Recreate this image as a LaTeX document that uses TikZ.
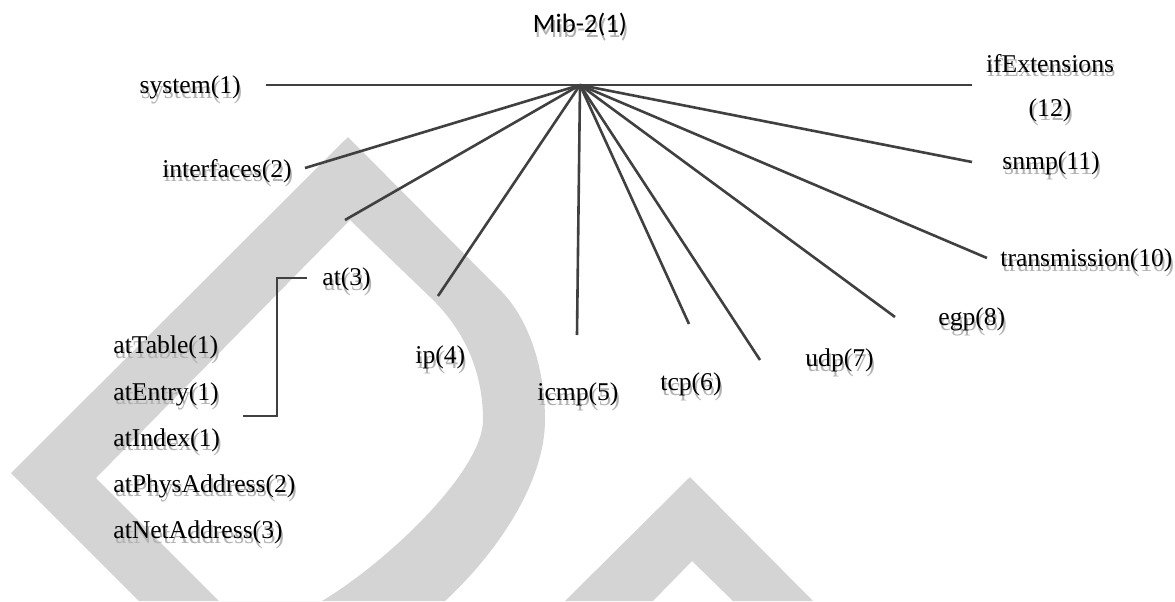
\documentclass[tikz,border=0pt]{standalone}
\usepackage{fontspec}
\setmainfont{Liberation Serif}
\newfontfamily\calibrifont{Carlito}
\usetikzlibrary{positioning, calc}
\colorlet{linegray}{black!75}
\colorlet{markgray}{black!17}
\colorlet{shadowgray}{black!30}
\newcommand{\shadowed}[1]{\rlap{\kern0.8pt\raisebox{-2.2pt}{\textcolor{shadowgray}{#1}}}#1}

\begin{document}
\begin{tikzpicture}[x=0.5pt, y=-0.5pt,
    leaf/.style={inner sep=0pt,
      font=\fontsize{12.8}{22}\selectfont},
    branch/.style={draw=linegray,
      line width=1.3pt}]
  \useasboundingbox (0,0) rectangle (1175,601);

  % BACKGROUND MARKS

  \fill[markgray, even odd rule]
    (139,601) -- (11,473) -- (348,137) -- (503,293)
      .. controls (530,322) and (545,370) .. (545,420)
      .. controls (545,480) and (500,550) .. (445,601) -- cycle
    (219,601) -- (96,478) -- (350,220) -- (430,297)
      .. controls (470,335) and (483,380) .. (483,420)
      .. controls (483,470) and (390,560) .. (322,601) -- cycle;

  \fill[markgray] (565,601) -- (690,477) -- (813,601)
    -- (733,601) -- (692,561) -- (653,601) -- cycle;

  % ROOT

  \node[leaf, font=\calibrifont\fontsize{13.3}{16}\selectfont] (mib) at (580,27) {
    \shadowed{Mib-2(1)}
  };
  \coordinate (hub) at (580,85);

  % GROUPS

  \node[leaf, anchor=east] (system) at (241,90) {\shadowed{system(1)}};
  \node[leaf, anchor=east] (interfaces) at (292,173) {\shadowed{interfaces(2)}};
  \node[leaf, anchor=west] (at3) at (322,282) {\shadowed{at(3)}};
  \node[leaf, anchor=west] (ip) at (415,360) {\shadowed{ip(4)}};
  \node[leaf, anchor=west] (icmp) at (537,397) {\shadowed{icmp(5)}};
  \node[leaf, anchor=west] (tcp) at (660,387) {\shadowed{tcp(6)}};
  \node[leaf, anchor=west] (udp) at (805,363) {\shadowed{udp(7)}};
  \node[leaf, anchor=west] (egp) at (938,322) {\shadowed{egp(8)}};
  \node[leaf, anchor=west] (transmission) at (1000,263) {\shadowed{transmission(10)}};
  \node[leaf, anchor=west] (snmp) at (1002,166) {\shadowed{snmp(11)}};
  \node[leaf, align=center] (ifext) at (1050,90) {
    \shadowed{ifExtensions}\\
    \shadowed{(12)}
  };

  % AT TABLE

  \node[leaf, anchor=west] (attable) at (113,350) {\shadowed{atTable(1)}};

  \node[leaf,
    below=23.1pt of attable.west,
    anchor=west] (atentry) {\shadowed{atEntry(1)}};

  \node[leaf,
    below=23.1pt of atentry.west,
    anchor=west] (atindex) {\shadowed{atIndex(1)}};

  \node[leaf,
    below=23.1pt of atindex.west,
    anchor=west] (atphys) {\shadowed{atPhysAddress(2)}};

  \node[leaf,
    below=23.1pt of atphys.west,
    anchor=west] (atnet) {\shadowed{atNetAddress(3)}};

  % BRANCHES

  \coordinate (e1) at (266,85);
  \coordinate (e2) at (305,168);
  \coordinate (e3) at (345,220);
  \coordinate (e4) at (438,296);
  \coordinate (e5) at (577,335);
  \coordinate (e6) at (689,324);
  \coordinate (e7) at (760,360);
  \coordinate (e8) at (895,317);
  \coordinate (e10) at (987,258);
  \coordinate (e11) at (972,162);
  \coordinate (e12) at (972,85);

  \foreach \e in {1,2,3,4,5,6,7,8,10,11,12}
    \draw[branch] (hub) -- (e\e);

  \draw[branch, line width=1.1pt] ($(at3.west)+(-15,-4)$) -- ++(-30,0)
    -- ++(0,138) -- ++(-34,0);

\end{tikzpicture}
\end{document}
